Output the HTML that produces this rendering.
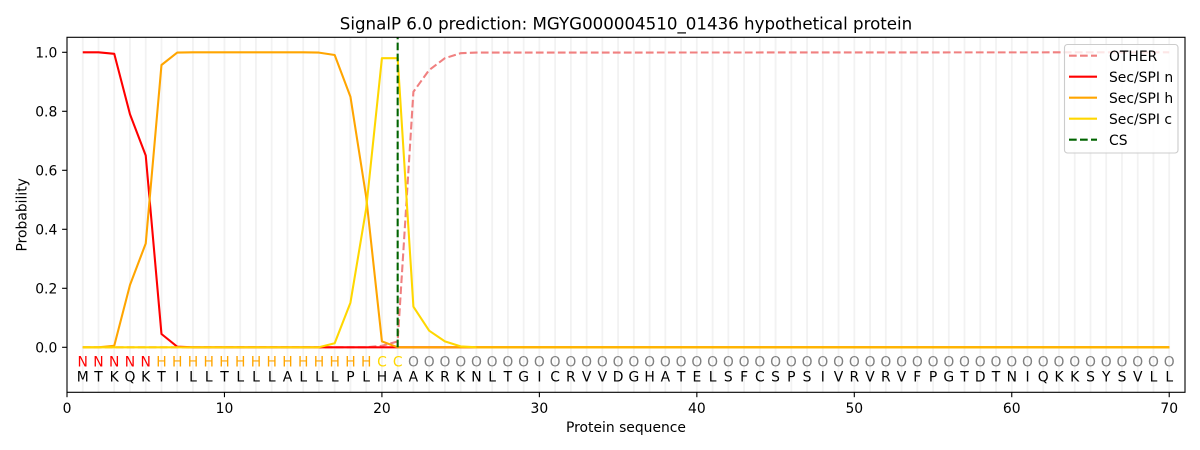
<!DOCTYPE html>
<html><head><meta charset="utf-8"><style>
html,body{margin:0;padding:0;background:#fff;}
svg{display:block;font-family:"DejaVu Sans","Liberation Sans",sans-serif;}
</style></head><body>
<svg width="1200" height="450" viewBox="0 0 1200 450" xmlns="http://www.w3.org/2000/svg">
<rect width="1200" height="450" fill="#fff"/>
<path fill="none" stroke="#f2f2f2" stroke-width="1.8" d="M82.75 37.3V392.3M98.49 37.3V392.3M114.24 37.3V392.3M129.98 37.3V392.3M145.73 37.3V392.3M161.48 37.3V392.3M177.22 37.3V392.3M192.97 37.3V392.3M208.71 37.3V392.3M224.46 37.3V392.3M240.21 37.3V392.3M255.95 37.3V392.3M271.70 37.3V392.3M287.44 37.3V392.3M303.19 37.3V392.3M318.94 37.3V392.3M334.68 37.3V392.3M350.43 37.3V392.3M366.17 37.3V392.3M381.92 37.3V392.3M397.67 37.3V392.3M413.41 37.3V392.3M429.16 37.3V392.3M444.90 37.3V392.3M460.65 37.3V392.3M476.40 37.3V392.3M492.14 37.3V392.3M507.89 37.3V392.3M523.63 37.3V392.3M539.38 37.3V392.3M555.13 37.3V392.3M570.87 37.3V392.3M586.62 37.3V392.3M602.36 37.3V392.3M618.11 37.3V392.3M633.86 37.3V392.3M649.60 37.3V392.3M665.35 37.3V392.3M681.09 37.3V392.3M696.84 37.3V392.3M712.59 37.3V392.3M728.33 37.3V392.3M744.08 37.3V392.3M759.82 37.3V392.3M775.57 37.3V392.3M791.32 37.3V392.3M807.06 37.3V392.3M822.81 37.3V392.3M838.55 37.3V392.3M854.30 37.3V392.3M870.05 37.3V392.3M885.79 37.3V392.3M901.54 37.3V392.3M917.28 37.3V392.3M933.03 37.3V392.3M948.78 37.3V392.3M964.52 37.3V392.3M980.27 37.3V392.3M996.01 37.3V392.3M1011.76 37.3V392.3M1027.51 37.3V392.3M1043.25 37.3V392.3M1059.00 37.3V392.3M1074.74 37.3V392.3M1090.49 37.3V392.3M1106.24 37.3V392.3M1121.98 37.3V392.3M1137.73 37.3V392.3M1153.47 37.3V392.3M1169.22 37.3V392.3"/>

<!-- OTHER -->
<polyline fill="none" stroke="#f08080" stroke-width="2.08" stroke-dasharray="7.7 3.3" points="82.75,347.3 366.17,347.3 381.92,345.8 397.67,341.4 413.41,91.8 429.16,70 444.9,58.2 460.65,53.2 476.4,52.6 1169.22,52.3"/>
<!-- n -->
<polyline fill="none" stroke="#ff0000" stroke-width="2.08" stroke-linejoin="round" points="82.75,52.3 98.49,52.3 114.24,53.8 129.98,114.25 145.73,155.55 161.48,334 177.22,346.7 192.97,347.3 1169.22,347.3"/>
<!-- h -->
<polyline fill="none" stroke="#ffa500" stroke-width="2.08" stroke-linejoin="round" points="82.75,347.3 98.49,347.3 114.24,345.8 129.98,285 145.73,243.5 161.48,65 177.22,52.6 192.97,52.3 303.19,52.3 318.94,52.6 334.68,55 350.43,96.7 366.17,196.9 381.92,341.4 397.67,347.3 1169.22,347.3"/>
<!-- c -->
<polyline fill="none" stroke="#ffd700" stroke-width="2.08" stroke-linejoin="round" points="82.75,347.3 318.94,347.3 334.68,343.3 350.43,302.7 366.17,208.6 381.92,58.2 397.67,58.2 413.41,306.7 429.16,330.7 444.9,341.4 460.65,346.4 476.4,347.3 1169.22,347.3"/>
<line x1="476.4" y1="347.3" x2="1169.22" y2="347.3" stroke="#ffb400" stroke-width="2.08"/>
<!-- CS -->
<line x1="397.67" y1="347.3" x2="397.67" y2="37.3" stroke="#006400" stroke-width="2.08" stroke-dasharray="7.7 3.3"/>

<!-- residue labels -->
<text y="366.7" font-size="13.89" text-anchor="middle"><tspan fill="#ff0000" x="82.75 98.49 114.24 129.98 145.73">NNNNN</tspan><tspan fill="#ffa500" x="161.48 177.22 192.97 208.71 224.46 240.21 255.95 271.70 287.44 303.19 318.94 334.68 350.43 366.17">HHHHHHHHHHHHHH</tspan><tspan fill="#ffd700" x="381.92 397.67">CC</tspan><tspan fill="#808080" x="413.41 429.16 444.90 460.65 476.40 492.14 507.89 523.63 539.38 555.13 570.87 586.62 602.36 618.11 633.86 649.60 665.35 681.09 696.84 712.59 728.33 744.08 759.82 775.57 791.32 807.06 822.81 838.55 854.30 870.05 885.79 901.54 917.28 933.03 948.78 964.52 980.27 996.01 1011.76 1027.51 1043.25 1059.00 1074.74 1090.49 1106.24 1121.98 1137.73 1153.47 1169.22">OOOOOOOOOOOOOOOOOOOOOOOOOOOOOOOOOOOOOOOOOOOOOOOOO</tspan></text>
<text y="381.7" font-size="13.89" text-anchor="middle" fill="#000" x="82.75 98.49 114.24 129.98 145.73 161.48 177.22 192.97 208.71 224.46 240.21 255.95 271.70 287.44 303.19 318.94 334.68 350.43 366.17 381.92 397.67 413.41 429.16 444.90 460.65 476.40 492.14 507.89 523.63 539.38 555.13 570.87 586.62 602.36 618.11 633.86 649.60 665.35 681.09 696.84 712.59 728.33 744.08 759.82 775.57 791.32 807.06 822.81 838.55 854.30 870.05 885.79 901.54 917.28 933.03 948.78 964.52 980.27 996.01 1011.76 1027.51 1043.25 1059.00 1074.74 1090.49 1106.24 1121.98 1137.73 1153.47 1169.22">MTKQKTILLTLLLALLLPLHAAKRKNLTGICRVVDGHATELSFCSPSIVRVRVFPGTDTNIQKKSYSVLL</text>

<!-- axes frame -->
<rect x="67" y="37.3" width="1118" height="355" fill="none" stroke="#000" stroke-width="1.11"/>

<!-- y ticks -->
<g stroke="#000" stroke-width="1.11">
<line x1="62.1" y1="347.3" x2="67" y2="347.3"/>
<line x1="62.1" y1="288.3" x2="67" y2="288.3"/>
<line x1="62.1" y1="229.3" x2="67" y2="229.3"/>
<line x1="62.1" y1="170.3" x2="67" y2="170.3"/>
<line x1="62.1" y1="111.3" x2="67" y2="111.3"/>
<line x1="62.1" y1="52.3" x2="67" y2="52.3"/>
</g>
<g font-size="13.89" text-anchor="end" fill="#000">
<text x="57.3" y="352.35">0.0</text>
<text x="57.3" y="293.35">0.2</text>
<text x="57.3" y="234.35">0.4</text>
<text x="57.3" y="175.35">0.6</text>
<text x="57.3" y="116.35">0.8</text>
<text x="57.3" y="57.35">1.0</text>
</g>

<!-- x ticks -->
<g stroke="#000" stroke-width="1.11">
<line x1="67" y1="392.3" x2="67" y2="397.2"/>
<line x1="224.46" y1="392.3" x2="224.46" y2="397.2"/>
<line x1="381.92" y1="392.3" x2="381.92" y2="397.2"/>
<line x1="539.38" y1="392.3" x2="539.38" y2="397.2"/>
<line x1="696.84" y1="392.3" x2="696.84" y2="397.2"/>
<line x1="854.3" y1="392.3" x2="854.3" y2="397.2"/>
<line x1="1011.76" y1="392.3" x2="1011.76" y2="397.2"/>
<line x1="1169.22" y1="392.3" x2="1169.22" y2="397.2"/>
</g>
<g font-size="13.89" text-anchor="middle" fill="#000">
<text x="67" y="413">0</text>
<text x="224.46" y="413">10</text>
<text x="381.92" y="413">20</text>
<text x="539.38" y="413">30</text>
<text x="696.84" y="413">40</text>
<text x="854.3" y="413">50</text>
<text x="1011.76" y="413">60</text>
<text x="1169.22" y="413">70</text>
</g>

<text x="626" y="432" font-size="13.89" text-anchor="middle" fill="#000">Protein sequence</text>
<text transform="translate(26.7,214.8) rotate(-90)" font-size="13.89" text-anchor="middle" fill="#000">Probability</text>
<text x="626" y="29.3" font-size="16.67" text-anchor="middle" fill="#000">SignalP 6.0 prediction: MGYG000004510_01436 hypothetical protein</text>

<!-- legend -->
<rect x="1064.5" y="44.5" width="113.5" height="108.5" rx="3" ry="3" fill="#fff" fill-opacity="0.8" stroke="#cccccc" stroke-width="1.11"/>
<line x1="1069" y1="55.7" x2="1097" y2="55.7" stroke="#f08080" stroke-width="2.08" stroke-dasharray="7.7 3.3"/>
<line x1="1069" y1="76.7" x2="1097" y2="76.7" stroke="#ff0000" stroke-width="2.08"/>
<line x1="1069" y1="97.7" x2="1097" y2="97.7" stroke="#ffa500" stroke-width="2.08"/>
<line x1="1069" y1="118.7" x2="1097" y2="118.7" stroke="#ffd700" stroke-width="2.08"/>
<line x1="1069" y1="139.7" x2="1097" y2="139.7" stroke="#006400" stroke-width="2.08" stroke-dasharray="7.7 3.3"/>
<g font-size="13.89" fill="#000">
<text x="1109" y="60.8">OTHER</text>
<text x="1109" y="81.8">Sec/SPI n</text>
<text x="1109" y="102.8">Sec/SPI h</text>
<text x="1109" y="123.8">Sec/SPI c</text>
<text x="1109" y="144.8">CS</text>
</g>
</svg>
</body></html>
